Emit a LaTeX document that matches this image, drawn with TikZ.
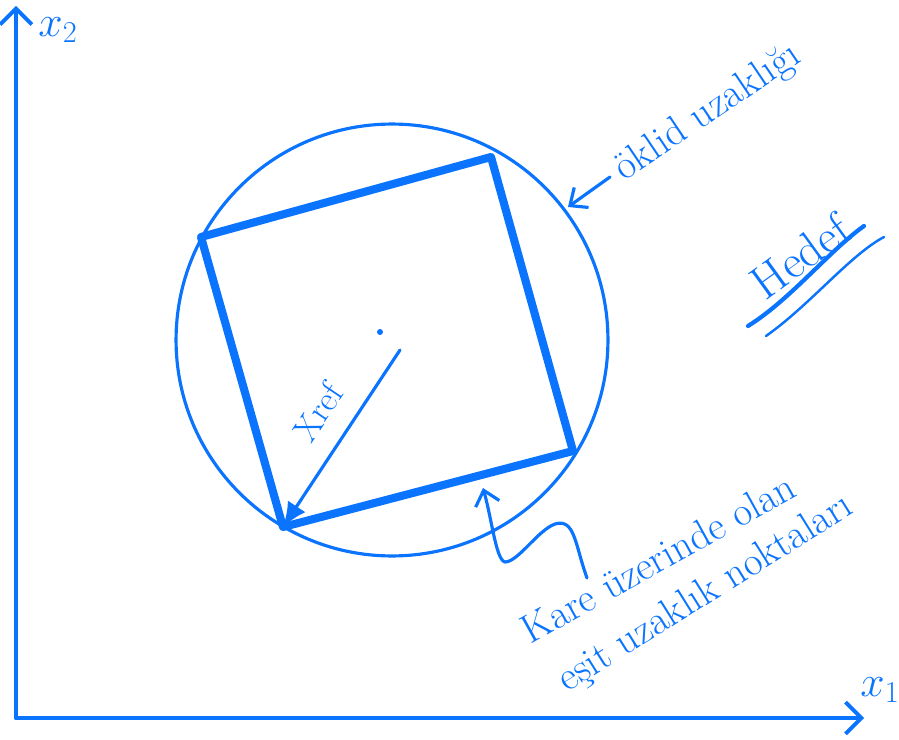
\documentclass[tikz,border=0pt]{standalone}
\usepackage{fontspec}
\usetikzlibrary{arrows.meta,positioning,calc}
\definecolor{pen}{RGB}{10,116,255}
\tikzset{
  ink/.style    ={draw=pen, line width=1.8pt, line cap=round, line join=round},
  axis/.style   ={ink, line width=2.2pt, -{Straight Barb[length=9pt,width=18pt,line width=2.2pt]}},
  thickedge/.style={ink, line width=4.6pt},
  hand/.style   ={text=pen, font=\fontsize{23}{26}\selectfont, inner sep=1pt},
  ptr/.style    ={ink, -{Straight Barb[length=8pt,width=14pt,line width=1.8pt]}},
  radius/.style ={ink, -{Latex[length=14pt,width=12pt]}},
}
\begin{document}
\begin{tikzpicture}[x=0.02cm, y=-0.02cm]
\useasboundingbox (0,0) rectangle (899,740);
% axes
\coordinate (o) at (16,718);
\coordinate (ytop) at (16,6);
\coordinate (xend) at (864,718);
\draw[axis] (o) -- (ytop);
\draw[axis] (o) -- (xend);
\node[hand] (xtwo) at (58,30) {$x_2$};
\node[hand] (xone) at (880,690) {$x_1$};

% circle and inscribed square
\node[circle, ink, minimum size=8.64cm, inner sep=0pt] (ring) at (392,340) {};
\coordinate (sqa) at (201,237);
\coordinate (sqb) at (491,157);
\coordinate (sqc) at (573,451);
\coordinate (sqd) at (283,527);
\draw[thickedge] (sqa) -- (sqb) -- (sqc) -- (sqd) -- cycle;

% centre and radius
\node[circle, fill=pen, inner sep=1.2pt] (ctr) at (380,332) {};
\coordinate (rstart) at (400,350);
\draw[radius] (rstart) -- (sqd);
\node[hand, font=\fontsize{20}{24}\selectfont, rotate=56] (xref) at (318,412) {Xref};

% labels with pointers
\node[hand, rotate=34] (dist) at (708,113) {öklid uzaklığı};
\coordinate (distfoot) at (610,177);
\coordinate (ringhit) at (568,207);
\draw[ptr] (distfoot) -- (ringhit);

\node[hand, rotate=29] (sqtxt) at (658,558) {Kare üzerinde olan};
\node[hand, rotate=32] (sqtxt2) at (706,594) {eşit uzaklık noktaları};
\coordinate (wavefoot) at (587,578);
\coordinate (sqhit) at (483,488);
\draw[ptr] (wavefoot) .. controls (575,545) and (575,518) .. (555,524)
  .. controls (538,530) and (518,562) .. (505,562)
  .. controls (496,560) and (492,520) .. (sqhit);

% signature
\node[hand, font=\fontsize{27}{30}\selectfont, rotate=36] (sig) at (800,256) {Hedef};
\coordinate (sga) at (748,326);
\coordinate (sgb) at (864,226);
\coordinate (sgc) at (766,336);
\coordinate (sgd) at (884,237);
\draw[ink, line width=2.4pt] (sga) .. controls (790,300) and (830,250) .. (sgb);
\draw[ink, line width=1.4pt] (sgc) .. controls (810,305) and (850,255) .. (sgd);
\end{tikzpicture}
\end{document}
